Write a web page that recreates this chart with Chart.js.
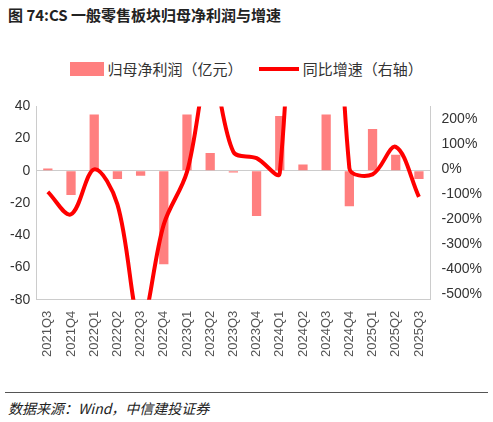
<!DOCTYPE html><html><head><meta charset="utf-8">
<script src="https://cdn.jsdelivr.net/npm/chart.js@4"></script>
<style>
body{margin:0;width:493px;height:422px;background:#fff;font-family:"Noto Sans CJK SC","Liberation Sans",sans-serif;position:relative;overflow:hidden}
#t{position:absolute;left:8px;top:4px;font-size:15px;font-weight:bold;color:#222}
#lg{position:absolute;left:0;width:493px;top:56px;text-align:center;font-size:15px;color:#333}
#lg span{display:inline-block;vertical-align:middle}
#c{position:absolute;left:0;top:92px}
#hr{position:absolute;left:5px;right:5px;top:392px;border-top:1px solid #555}
#src{position:absolute;left:8px;top:398px;font-size:14px;font-style:italic;color:#222}
</style></head><body>
<div id="t">图 74:CS 一般零售板块归母净利润与增速</div>
<div id="lg"><span style="width:34px;height:14px;background:#ff7f7f"></span> <span>归母净利润（亿元）</span>&nbsp;&nbsp;&nbsp;&nbsp;&nbsp;<span style="width:40px;height:4px;background:#f00"></span> <span>同比增速（右轴）</span></div>
<canvas id="c" width="493" height="268"></canvas>
<div id="hr"></div>
<div id="src">数据来源：Wind，中信建投证券</div>
<script>
const categories=["2021Q3","2021Q4","2022Q1","2022Q2","2022Q3","2022Q4","2023Q1","2023Q2","2023Q3","2023Q4","2024Q1","2024Q2","2024Q3","2024Q4","2025Q1","2025Q2","2025Q3"];
const profit=[1.5,-15,35,-5,-3,-58,35,11,-1,-28,34,4,35,-22,26,10,-5];
const growth=[-90,-180,0,-140,-620,-220,-10,420,70,45,-15,2000,2000,5,-20,90,-110];
const leftTicks=[-80,-60,-40,-20,0,20,40];
const rightTicks=[-500,-400,-300,-200,-100,0,100,200];
new Chart(document.getElementById('c'),{data:{labels:categories,datasets:[
{type:'line',data:growth,yAxisID:'y1',borderColor:'#f00',borderWidth:4,pointRadius:0,tension:0.35,order:0},
{type:'bar',data:profit,yAxisID:'y',backgroundColor:'#ff7f7f',barPercentage:0.4,categoryPercentage:1,order:1}]},
options:{responsive:false,animation:false,plugins:{legend:{display:false},tooltip:{enabled:false}},
layout:{padding:{left:4,right:8,top:8}},
scales:{x:{grid:{display:false},border:{color:'#ccc'},ticks:{color:'#555',font:{size:13},maxRotation:90,minRotation:90}},
y:{min:-80,max:40,afterBuildTicks:a=>{a.ticks=leftTicks.map(v=>({value:v}))},grid:{color:c=>c.tick&&c.tick.value===0?'#ccc':'transparent',drawTicks:false},border:{color:'#ccc'},ticks:{color:'#333',font:{size:14},padding:6}},
y1:{position:'right',min:-522,max:252,afterBuildTicks:a=>{a.ticks=rightTicks.map(v=>({value:v}))},grid:{display:false},border:{color:'#ccc'},ticks:{color:'#333',font:{size:14},callback:v=>v+'%'}}}}});
</script></body></html>
